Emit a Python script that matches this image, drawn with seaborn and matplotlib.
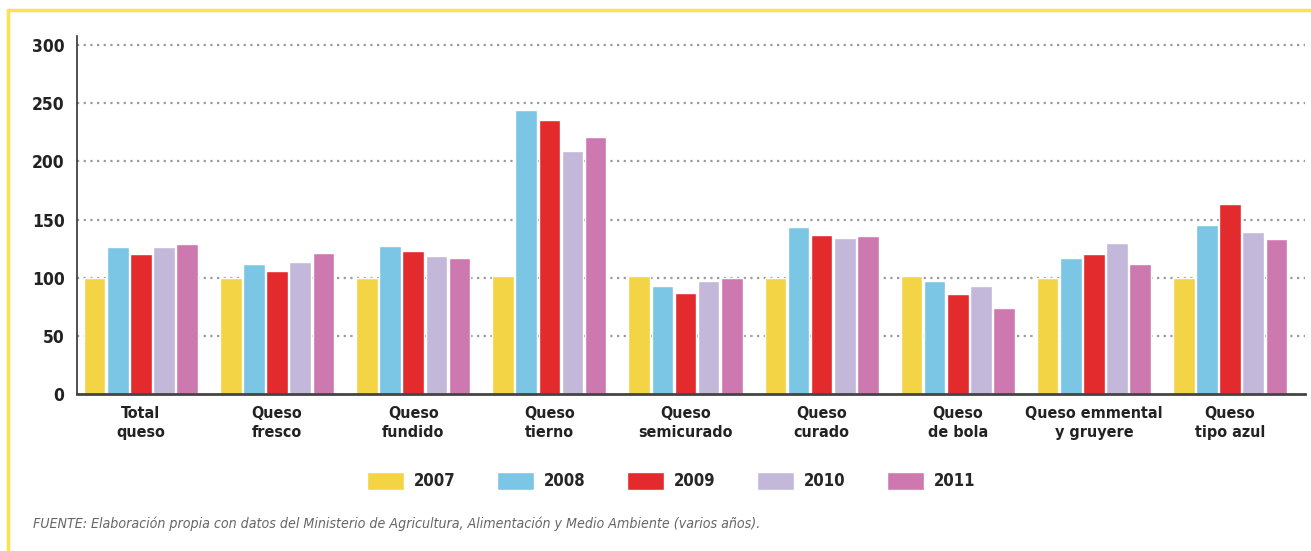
import matplotlib
matplotlib.use("Agg")
import matplotlib.pyplot as plt
import seaborn as sns
import pandas as pd
from matplotlib.lines import Line2D

# index values (2007 = 100)
categories = ["Total\nqueso", "Queso\nfresco", "Queso\nfundido", "Queso\ntierno",
              "Queso\nsemicurado", "Queso\ncurado", "Queso\nde bola",
              "Queso emmental\ny gruyere", "Queso\ntipo azul"]
years = ["2007", "2008", "2009", "2010", "2011"]
v2007 = [100, 100, 100, 101, 101, 100, 101, 100, 100]
v2008 = [126, 112, 127, 244, 93, 144, 97, 117, 145]
v2009 = [120, 106, 123, 236, 87, 137, 86, 120, 163]
v2010 = [126, 113, 119, 209, 97, 134, 93, 130, 139]
v2011 = [129, 121, 117, 221, 100, 136, 74, 112, 133]
colors = ["#F3D444", "#7AC6E4", "#E32A2C", "#C4B8DA", "#CE78B0"]

series = [v2007, v2008, v2009, v2010, v2011]
df = pd.DataFrame([
    {"categoria": c, "año": y, "valor": vals[i]}
    for y, vals in zip(years, series)
    for i, c in enumerate(categories)
])

sns.set_style("white")
plt.rcParams["font.family"] = ["DejaVu Sans"]
plt.rcParams["font.stretch"] = "condensed"

fig = plt.figure(figsize=(13.11, 5.51), dpi=100)
ax = fig.add_axes([0.0587, 0.2855, 0.9367, 0.649])

# gridlines first so bars cover them
for g in range(50, 301, 50):
    ax.axhline(g, color="#9a9a9a", lw=1.6, ls=(0, (1, 2)), zorder=0)

sns.barplot(data=df, x="categoria", y="valor", hue="año", palette=colors,
            width=0.85, gap=0.07, saturation=1, ax=ax, zorder=2)

handles, labels = ax.get_legend_handles_labels()
ax.get_legend().remove()

ax.set_ylim(0, 308)
ax.set_xlim(-0.47, 8.55)
ax.set_yticks(range(0, 301, 50))
ax.set_xlabel("")
ax.set_ylabel("")
ax.tick_params(axis="both", length=0, colors="#222222")
ax.tick_params(axis="y", pad=9, labelsize=12.5)
ax.tick_params(axis="x", pad=9, labelsize=11.5)
for lab in ax.get_xticklabels() + ax.get_yticklabels():
    lab.set_fontweight("bold")
for lab in ax.get_xticklabels():
    lab.set_linespacing(1.3)

for s in ["top", "right"]:
    ax.spines[s].set_visible(False)
ax.spines["left"].set_color("#333333")
ax.spines["left"].set_linewidth(1.2)
ax.spines["bottom"].set_color("#444444")
ax.spines["bottom"].set_linewidth(2)

leg = fig.legend(handles, labels, loc="center", bbox_to_anchor=(0.512, 0.127),
                 ncol=5, frameon=False, handlelength=2.25, handleheight=1.3,
                 handletextpad=0.6, columnspacing=2.45,
                 prop={"weight": "bold", "size": 12})

fig.text(0.025, 0.05, "FUENTE: Elaboración propia con datos del Ministerio de Agricultura, "
         "Alimentación y Medio Ambiente (varios años).",
         fontsize=10.2, style="italic", color="#666666", va="center")

# yellow frame (left and top edges)
frame = "#FFE04D"
fig.add_artist(Line2D([0.006, 0.006], [0, 0.982], color=frame, lw=2.5))
fig.add_artist(Line2D([0.006, 1.0], [0.982, 0.982], color=frame, lw=2.5))

fig.savefig("out.png", dpi=100)
